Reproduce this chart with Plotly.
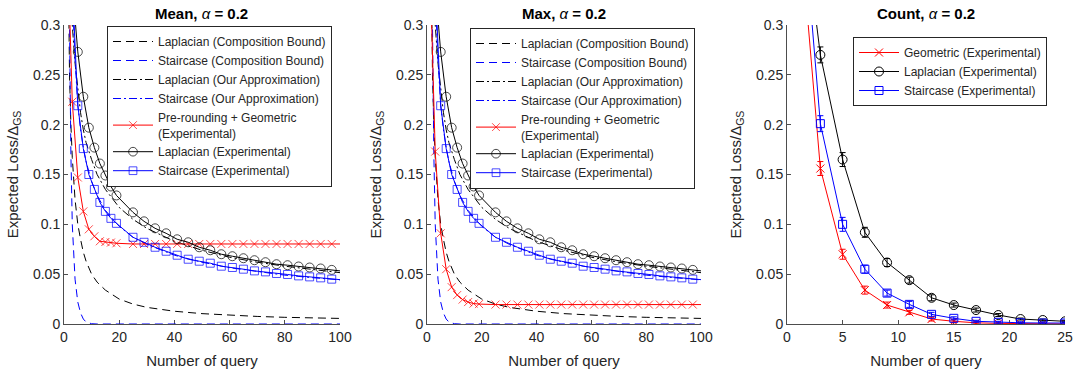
import plotly.graph_objects as go

# ---------------- data ----------------
# experimental (Mean / Max panels)
x_exp = [1, 3, 5, 7, 9, 11, 13, 15, 17, 19, 25, 29, 33, 37, 41, 45, 49, 53, 57, 61,
         65, 69, 73, 77, 81, 85, 89, 93, 97, 100]
lap_exp = [0.60, 0.34, 0.273, 0.228, 0.197, 0.177, 0.161, 0.149, 0.138, 0.129,
           0.112, 0.103, 0.096, 0.091, 0.085, 0.082, 0.077, 0.074, 0.070, 0.068,
           0.066, 0.064, 0.062, 0.060, 0.059, 0.0577, 0.0567, 0.0557, 0.0543, 0.0533]
stair_exp = [0.80, 0.343, 0.219, 0.176, 0.150, 0.135, 0.122, 0.113, 0.106, 0.101,
             0.087, 0.082, 0.077, 0.073, 0.069, 0.065, 0.063, 0.061, 0.058, 0.0567,
             0.055, 0.0533, 0.0523, 0.0507, 0.0497, 0.0483, 0.0473, 0.0463, 0.045, 0.0445]
geo_mean_exp = [0.41, 0.223, 0.147, 0.113, 0.095, 0.088, 0.083, 0.0823, 0.0817, 0.081,
                0.0803, 0.0803, 0.0803, 0.0803, 0.0803, 0.0803, 0.0803, 0.0803, 0.0803, 0.0803,
                0.0803, 0.0803, 0.0803, 0.0803, 0.0803, 0.0803, 0.0803, 0.0803, 0.0803, 0.0803]
geo_max_exp = [0.37, 0.173, 0.091, 0.055, 0.037, 0.029, 0.0245, 0.022, 0.0205, 0.020,
               0.0195, 0.0195, 0.0195, 0.0195, 0.0195, 0.0195, 0.0195, 0.0195, 0.0195, 0.0195,
               0.0195, 0.0195, 0.0195, 0.0195, 0.0195, 0.0195, 0.0195, 0.0195, 0.0195, 0.0195]

# theoretical curves (Mean / Max panels)
x_th = [1, 1.5, 2, 2.5, 3, 4, 5, 6, 7, 8, 10, 12, 15, 20, 25, 30, 40, 50, 60, 70, 80, 90, 100]
lap_comp = [0.50, 0.34, 0.25, 0.20, 0.167, 0.125, 0.100, 0.085, 0.072, 0.063, 0.050, 0.042,
            0.034, 0.025, 0.020, 0.0167, 0.0128, 0.0104, 0.0088, 0.0076, 0.0067, 0.0061, 0.0056]
stair_comp = [1.0, 0.60, 0.30, 0.17, 0.10, 0.045, 0.022, 0.011, 0.005, 0.002, 0.0003, 0.0,
              0.0, 0.0, 0.0, 0.0, 0.0, 0.0, 0.0, 0.0, 0.0, 0.0, 0.0]
lap_approx = [0.52, 0.42, 0.37, 0.33, 0.30, 0.262, 0.235, 0.212, 0.195, 0.182, 0.165, 0.150,
              0.135, 0.117, 0.105, 0.096, 0.083, 0.074, 0.067, 0.062, 0.058, 0.0545, 0.0515]
stair_approx = [0.80, 0.55, 0.45, 0.38, 0.33, 0.265, 0.220, 0.195, 0.177, 0.163, 0.143, 0.129,
                0.114, 0.098, 0.087, 0.080, 0.069, 0.062, 0.0565, 0.0525, 0.049, 0.0465, 0.0443]

# Count panel
x_cnt = [1, 3, 5, 7, 9, 11, 13, 15, 17, 19, 21, 23, 25]
geo_cnt = [0.42, 0.156, 0.070, 0.034, 0.019, 0.0117, 0.005, 0.0027, 0.0012, 0.0006, 0.0003, 0.0002, 0.0001]
lap_cnt = [0.45, 0.270, 0.165, 0.092, 0.0617, 0.044, 0.0263, 0.019, 0.014, 0.009, 0.005, 0.004, 0.0027]
stair_cnt = [0.47, 0.201, 0.100, 0.055, 0.031, 0.0197, 0.0097, 0.0057, 0.0027, 0.0017, 0.0012, 0.001, 0.001]
geo_cnt_err = [0.010, 0.007, 0.005, 0.004, 0.003, 0.002, 0.002, 0.0015, 0.001, 0.001, 0.001, 0.001, 0.001]
lap_cnt_err = [0.010, 0.008, 0.007, 0.005, 0.004, 0.003, 0.003, 0.002, 0.002, 0.0015, 0.001, 0.001, 0.001]
stair_cnt_err = [0.010, 0.008, 0.007, 0.004, 0.003, 0.003, 0.002, 0.0015, 0.001, 0.001, 0.001, 0.001, 0.001]

panel_titles = ["<b>Mean, </b><i>α</i><b> = 0.2</b>",
                "<b>Max, </b><i>α</i><b> = 0.2</b>",
                "<b>Count, </b><i>α</i><b> = 0.2</b>"]
x_title = "Number of query"
y_title = "Expected Loss/Δ<sub>GS</sub>"
y_ticks = [0, 0.05, 0.1, 0.15, 0.2, 0.25, 0.3]
y_ticklabels = ["0", "0.05", "0.1", "0.15", "0.2", "0.25", "0.3"]
x_ticks_big = [0, 20, 40, 60, 80, 100]
x_ticks_cnt = [0, 5, 10, 15, 20, 25]

# ---------------- style ----------------
FONT = "Liberation Sans, Arial, Helvetica, sans-serif"
RED, BLUE, BLACK = "#ff0000", "#0000ff", "#000000"
DASH = "8px,5px"
DASHDOT = "8px,3px,2px,3px"
W = 1077
H = 376
doms_x = [[64 / W, 340 / W], [427 / W, 701 / W], [787 / W, 1065 / W]]
dom_y = [1 - 324 / H, 1 - 25 / H]

exp_sizes_circle = [9] * (len(x_exp) - 1) + [0]
exp_sizes_square = [8] * (len(x_exp) - 1) + [0]
exp_sizes_x = [8] * (len(x_exp) - 1) + [0]

fig = go.Figure()


def add_big_panel(ax, leg, geo_vals):
    xa, ya = ("x", "y") if ax == 1 else (f"x{ax}", f"y{ax}")
    common = dict(xaxis=xa, yaxis=ya, legend=leg, legendgroup=f"p{ax}")
    fig.add_trace(go.Scatter(x=x_th, y=lap_comp, mode="lines", name="Laplacian (Composition Bound)",
                             line=dict(color=BLACK, width=1, dash=DASH), **common))
    fig.add_trace(go.Scatter(x=x_th, y=stair_comp, mode="lines", name="Staircase (Composition Bound)",
                             line=dict(color=BLUE, width=1, dash=DASH), **common))
    fig.add_trace(go.Scatter(x=x_th, y=lap_approx, mode="lines", name="Laplacian (Our Approximation)",
                             line=dict(color=BLACK, width=1, dash=DASHDOT), **common))
    fig.add_trace(go.Scatter(x=x_th, y=stair_approx, mode="lines", name="Staircase (Our Approximation)",
                             line=dict(color=BLUE, width=1, dash=DASHDOT), **common))
    fig.add_trace(go.Scatter(x=x_exp, y=geo_vals, mode="lines+markers",
                             name="Pre-rounding + Geometric<br>(Experimental)",
                             line=dict(color=RED, width=1),
                             marker=dict(symbol="x-thin-open", size=exp_sizes_x,
                                         line=dict(color=RED, width=1), color=RED), **common))
    fig.add_trace(go.Scatter(x=x_exp, y=lap_exp, mode="lines+markers", name="Laplacian (Experimental)",
                             line=dict(color=BLACK, width=1),
                             marker=dict(symbol="circle-open", size=exp_sizes_circle,
                                         line=dict(color=BLACK, width=1), color=BLACK), **common))
    fig.add_trace(go.Scatter(x=x_exp, y=stair_exp, mode="lines+markers", name="Staircase (Experimental)",
                             line=dict(color=BLUE, width=1),
                             marker=dict(symbol="square-open", size=exp_sizes_square,
                                         line=dict(color=BLUE, width=1), color=BLUE), **common))


add_big_panel(1, "legend2", geo_mean_exp)
add_big_panel(2, "legend3", geo_max_exp)

# Count panel
for name, vals, err, col, sym, sz in [
    ("Geometric (Experimental)", geo_cnt, geo_cnt_err, RED, "x-thin-open", 8),
    ("Laplacian (Experimental)", lap_cnt, lap_cnt_err, BLACK, "circle-open", 9),
    ("Staircase (Experimental)", stair_cnt, stair_cnt_err, BLUE, "square-open", 8),
]:
    fig.add_trace(go.Scatter(x=x_cnt, y=vals, mode="markers", showlegend=False,
                             marker=dict(size=1, opacity=0, color=col),
                             error_y=dict(type="data", array=err, color=col, thickness=1, width=3),
                             xaxis="x3", yaxis="y3", hoverinfo="skip"))
    fig.add_trace(go.Scatter(x=x_cnt, y=vals, mode="lines+markers", name=name,
                             line=dict(color=col, width=1),
                             marker=dict(symbol=sym, size=sz, line=dict(color=col, width=1), color=col),
                             xaxis="x3", yaxis="y3", legend="legend4", legendgroup="p3"))

axis_common = dict(showline=True, linecolor="#4d4d4d", linewidth=1, ticks="inside", ticklen=4,
                   tickcolor="#4d4d4d", tickfont=dict(size=14, color="#262626", family=FONT),
                   showgrid=False, zeroline=False, mirror=False, layer="below traces",
                   automargin=False)

layout = dict(
    width=W, height=H, margin=dict(l=0, r=0, t=0, b=0, autoexpand=False),
    paper_bgcolor="white", plot_bgcolor="white",
    font=dict(family=FONT, color="#262626"),
    showlegend=True,
)
for i in range(3):
    sfx = "" if i == 0 else str(i + 1)
    xt = x_ticks_cnt if i == 2 else x_ticks_big
    xr = [0, 25] if i == 2 else [0, 100]
    layout["xaxis" + sfx] = dict(domain=doms_x[i], range=xr, tickvals=xt, anchor="y" + sfx,
                                 title=dict(text=x_title, font=dict(size=15, color="#262626"), standoff=11),
                                 **axis_common)
    layout["yaxis" + sfx] = dict(domain=dom_y, range=[0, 0.3], tickvals=y_ticks, ticktext=y_ticklabels,
                                 anchor="x" + sfx,
                                 title=dict(text=y_title, font=dict(size=15, color="#262626"), standoff=10),
                                 **axis_common)

leg_common = dict(bgcolor="white", bordercolor="#262626", borderwidth=1,
                  font=dict(size=12, family=FONT, color="#262626"),
                  xanchor="left", yanchor="top", tracegroupgap=0, itemwidth=40)
layout["legend2"] = dict(x=107 / W, y=1 - 26 / H, **leg_common)
layout["legend3"] = dict(x=470 / W, y=1 - 28 / H, **leg_common)
layout["legend4"] = dict(x=853 / W, y=1 - 37 / H, **leg_common)

annotations = []
for i in range(3):
    cx = (doms_x[i][0] + doms_x[i][1]) / 2
    annotations.append(dict(text=panel_titles[i], x=cx, y=dom_y[1], xref="paper", yref="paper",
                            xanchor="center", yanchor="bottom", yshift=1, showarrow=False,
                            font=dict(size=15, family=FONT, color="#000000")))
layout["annotations"] = annotations

fig.update_layout(**layout)
fig.write_html("out.html", config={"displayModeBar": False},
               post_script="document.body.style.margin='0';document.body.style.overflow='hidden';")
